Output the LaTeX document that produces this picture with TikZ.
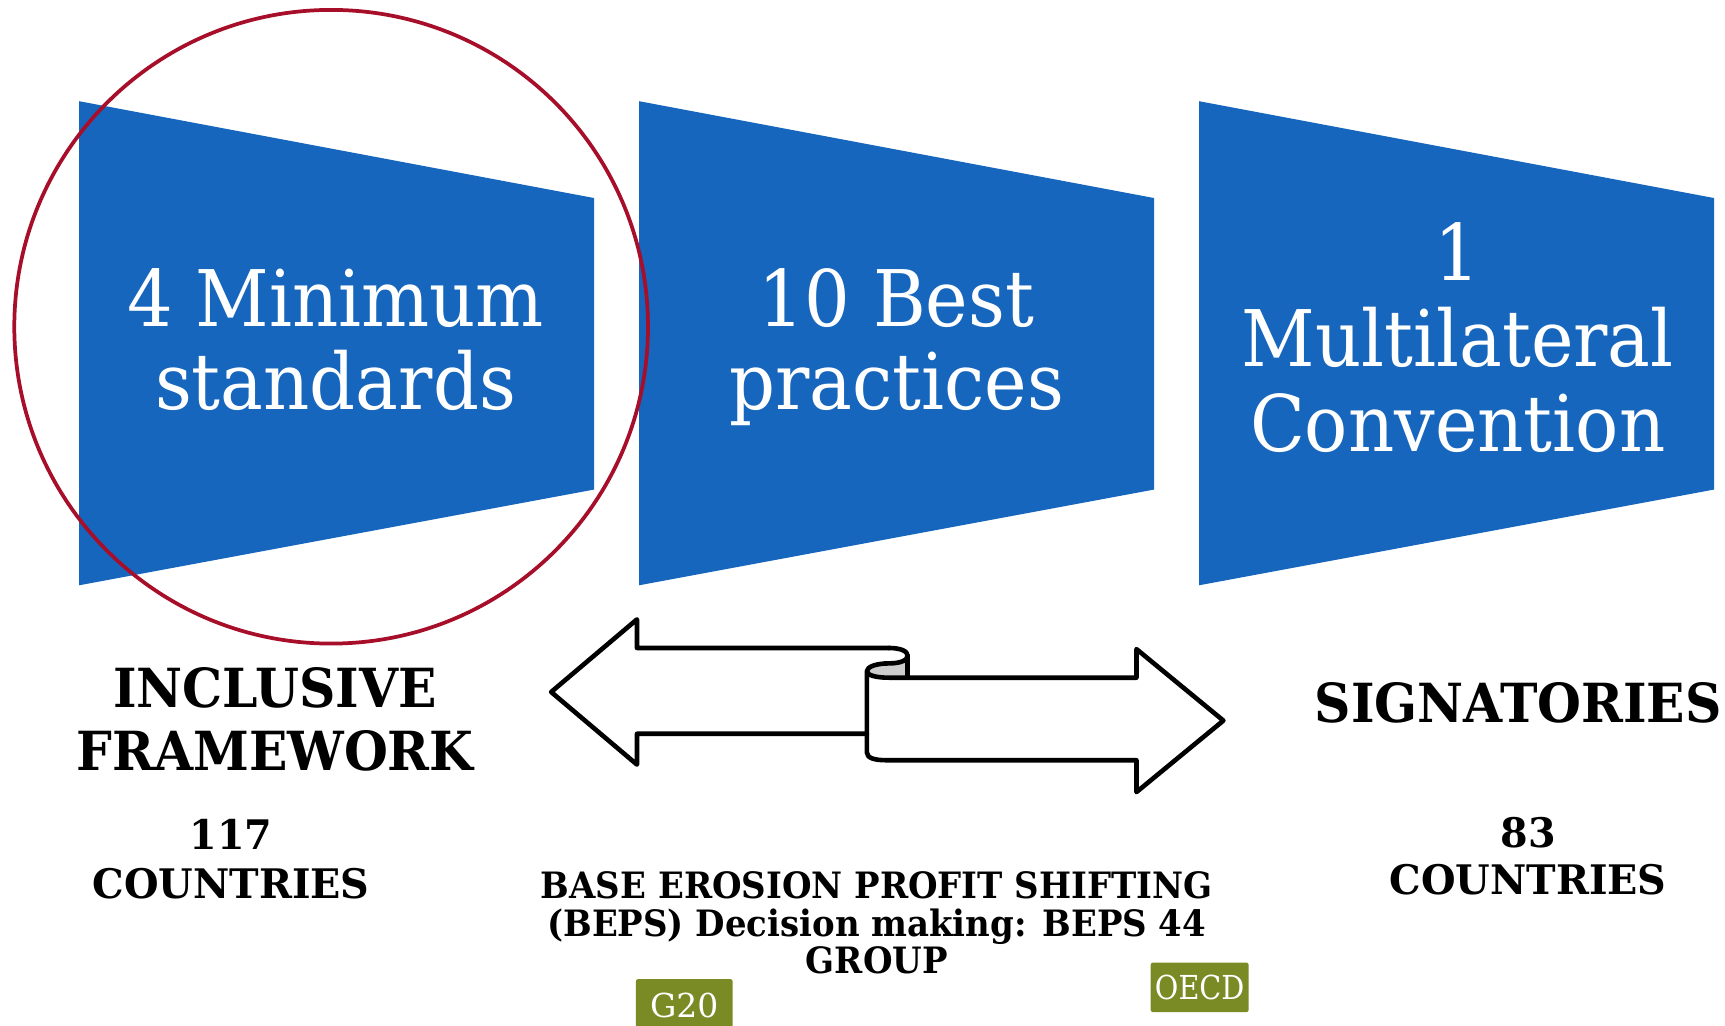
\documentclass[tikz,border=0pt]{standalone}
\usepackage{fontspec}
\setmainfont{DejaVu Serif}
\newfontfamily\serifA{DejaVu Serif}[FakeStretch=0.92]
\newfontfamily\serifB{DejaVu Serif}[FakeStretch=0.935]
\newfontfamily\serifC{DejaVu Serif}[FakeStretch=0.975]
\newfontfamily\serifD{DejaVu Serif}[FakeStretch=0.87]
\definecolor{bepsblue}{RGB}{23,102,189}
\definecolor{circred}{RGB}{166,14,42}
\definecolor{olivebox}{RGB}{122,139,38}
\definecolor{curlgray}{RGB}{205,205,205}
\tikzset{
  trap/.style={fill=bepsblue},
  bigtxt/.style={text=white, font=\serifA\fontsize{71}{75}\selectfont, anchor=base, inner sep=0pt},
  biglbl/.style={font=\serifB\bfseries\fontsize{49}{57}\selectfont, anchor=base, inner sep=0pt},
  midlbl/.style={font=\serifC\bfseries\fontsize{37}{44}\selectfont, anchor=base, inner sep=0pt},
  smalllbl/.style={font=\serifB\bfseries\fontsize{33}{34}\selectfont, anchor=base, inner sep=0pt},
  greenbox/.style={fill=olivebox, rounded corners=2pt, text=white, inner sep=0pt},
  scroll/.style={line width=4.2pt, line join=round, line cap=round}
}
\begin{document}
\begin{tikzpicture}[x=1pt,y=-1pt]
\useasboundingbox (0,0) rectangle (1568,932);
% trapezoids
\fill[trap] (72,92) -- (540,180) -- (540,445) -- (72,532) -- cycle;
\fill[trap] (581,92) -- (1049,180) -- (1049,445) -- (581,532) -- cycle;
\fill[trap] (1090,92) -- (1558,180) -- (1558,445) -- (1090,532) -- cycle;
% texts in trapezoids
\node[bigtxt] (m1) at (305,297) {4 Minimum};
\node[bigtxt] (m2) at (305,372) {standards};
\node[bigtxt] (b1) at (815,297) {10 Best};
\node[bigtxt] (b2) at (815,372) {practices};
\node[bigtxt] (c1) at (1325,255) {1};
\node[bigtxt] (c2) at (1325,333) {Multilateral};
\node[bigtxt] (c3) at (1325,410) {Convention};
% red circle
\draw[circred, line width=3.4pt] (301,297) circle[radius=288];
% scroll double arrow
\coordinate (lt) at (808,589);
\fill[curlgray] (788,610) .. controls (788,606) and (797,603) .. (808,603)
   .. controls (819,603) and (825,600) .. (825,596) -- (825,616) -- (808,616)
   .. controls (797,616) and (788,614) .. (788,610) -- cycle;
\draw[scroll] (lt) -- (579,589) -- (579,563) -- (501,629) -- (579,695) -- (579,667) -- (788,667);
\draw[scroll] (lt) .. controls (819,589) and (825,592) .. (825,596)
   .. controls (825,600) and (819,603) .. (808,603)
   .. controls (797,603) and (788,606) .. (788,610)
   .. controls (788,614) and (797,616) .. (808,616)
   -- (1033,616) -- (1033,590) -- (1112,655) -- (1033,720) -- (1033,691) -- (805,691)
   .. controls (795,691) and (788,689) .. (788,684) -- (788,610);
\draw[scroll] (825,596) -- (825,616);
% labels
\node[biglbl] (inc1) at (250,643) {INCLUSIVE};
\node[biglbl] (inc2) at (250,700) {FRAMEWORK};
\node[midlbl] (n117) at (210,772) {117};
\node[midlbl] (cty1) at (210,817) {COUNTRIES};
\node[biglbl] (sig) at (1380,657) {SIGNATORIES};
\node[midlbl] (n83) at (1389,770) {83};
\node[midlbl] (cty2) at (1389,813) {COUNTRIES};
\node[smalllbl] (beps1) at (797,817) {BASE EROSION PROFIT SHIFTING};
\node[smalllbl] (beps2) at (797,851) {(BEPS) Decision making: BEPS 44};
\node[smalllbl] (beps3) at (797,885) {GROUP};
% green boxes
\node[greenbox, font=\fontsize{30}{32}\selectfont, minimum width=88pt, minimum height=48pt] (g20) at (622,914) {G20};
\node[greenbox, font=\serifD\fontsize{30}{32}\selectfont, minimum width=89pt, minimum height=45pt] (oecd) at (1090.5,897.5) {OECD};
\end{tikzpicture}
\end{document}
